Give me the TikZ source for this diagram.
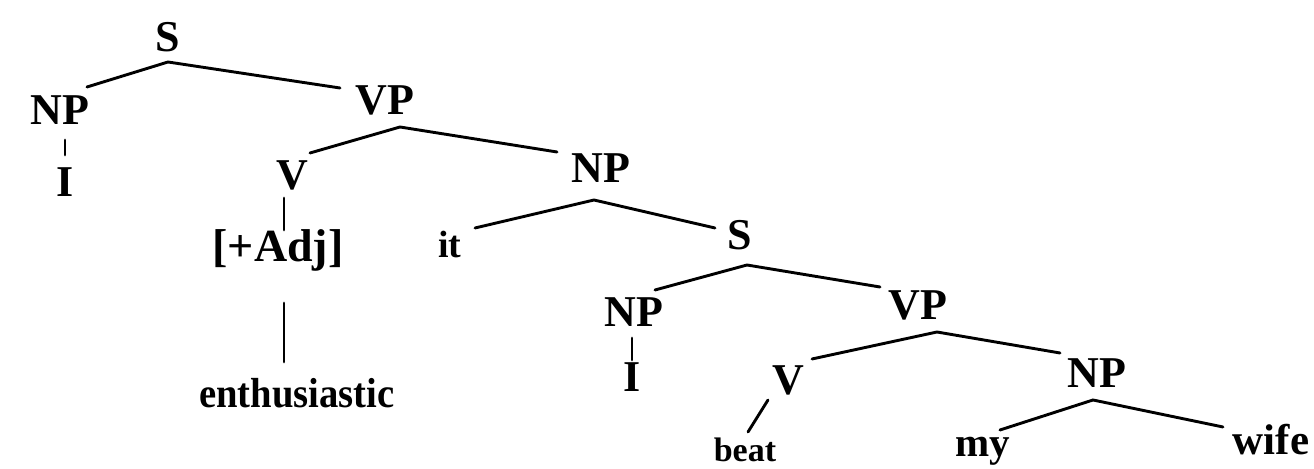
\documentclass[tikz,border=0pt]{standalone}
\usepackage{fontspec}
\usepackage{graphicx}
\newfontfamily\treefont{Liberation Serif}
\newcommand\myCap[1]{{\fontsize{22}{26}\selectfont\treefont\bfseries #1}}
\newcommand\myWord[3]{\scalebox{#2}[1]{\fontsize{#1}{26}\selectfont\treefont\bfseries #3}}
\begin{document}
\begin{tikzpicture}[x=0.5pt,y=-0.5pt,
  lbl/.style={inner sep=0pt,outer sep=0pt,anchor=base},
  branch/.style={line width=1.45pt,line cap=round}]
\useasboundingbox (0,0) rectangle (1314,469);
% nodes
\node[lbl] (S1) at (168,52) {\myCap{S}};
\node[lbl] (NP1) at (60,125) {\myCap{NP}};
\node[lbl] (I1) at (65,197) {\myCap{I}};
\node[lbl] (VP1) at (385,115) {\myCap{VP}};
\node[lbl] (V1) at (292,190) {\myCap{V}};
\node[lbl] (Adj) at (278,262) {\myWord{23}{1.0}{[+Adj]}};
\node[lbl] (enth) at (297,408) {\myWord{21}{0.92}{enthusiastic}};
\node[lbl] (NP2) at (601,183) {\myCap{NP}};
\node[lbl] (it) at (450,258) {\myWord{19}{1.0}{it}};
\node[lbl] (S2) at (740,250) {\myCap{S}};
\node[lbl] (NP3) at (634,327) {\myCap{NP}};
\node[lbl] (I2) at (632,392) {\myCap{I}};
\node[lbl] (VP2) at (918,320) {\myCap{VP}};
\node[lbl] (V2) at (788,395) {\myCap{V}};
\node[lbl] (NP4) at (1097,388) {\myCap{NP}};
\node[lbl] (beat) at (745,462) {\myWord{17}{1.0}{beat}};
\node[lbl] (my) at (983,457) {\myWord{20.5}{1.0}{my}};
\node[lbl] (wife) at (1271,455) {\myWord{21.5}{1.0}{wife}};
% branches
\draw[branch] ([shift={(27,-38)}]NP1.base) -- ([shift={(0,10)}]S1.base) -- ([shift={(-45,-27)}]VP1.base);
\draw[branch] ([shift={(5,15)}]NP1.base) -- ([shift={(0,-42)}]I1.base);
\draw[branch] ([shift={(18,-37)}]V1.base) -- ([shift={(15,12)}]VP1.base) -- ([shift={(-44,-31)}]NP2.base);
\draw[branch] ([shift={(-8,8)}]V1.base) -- ([shift={(6,-32)}]Adj.base);
\draw[branch] ([shift={(6,41)}]Adj.base) -- ([shift={(-13,-46)}]enth.base);
\draw[branch] ([shift={(25,-30)}]it.base) -- ([shift={(-7,17)}]NP2.base) -- ([shift={(-25,-22)}]S2.base);
\draw[branch] ([shift={(21,-37)}]NP3.base) -- ([shift={(7,15)}]S2.base) -- ([shift={(-38,-33)}]VP2.base);
\draw[branch] ([shift={(-2,11)}]NP3.base) -- ([shift={(0,-32)}]I2.base);
\draw[branch] ([shift={(24,-36)}]V2.base) -- ([shift={(19,12)}]VP2.base) -- ([shift={(-37,-35)}]NP4.base);
\draw[branch] ([shift={(-20,5)}]V2.base) -- ([shift={(3,-30)}]beat.base);
\draw[branch] ([shift={(17,-27)}]my.base) -- ([shift={(-4,12)}]NP4.base) -- ([shift={(-48,-28)}]wife.base);
\end{tikzpicture}
\end{document}
